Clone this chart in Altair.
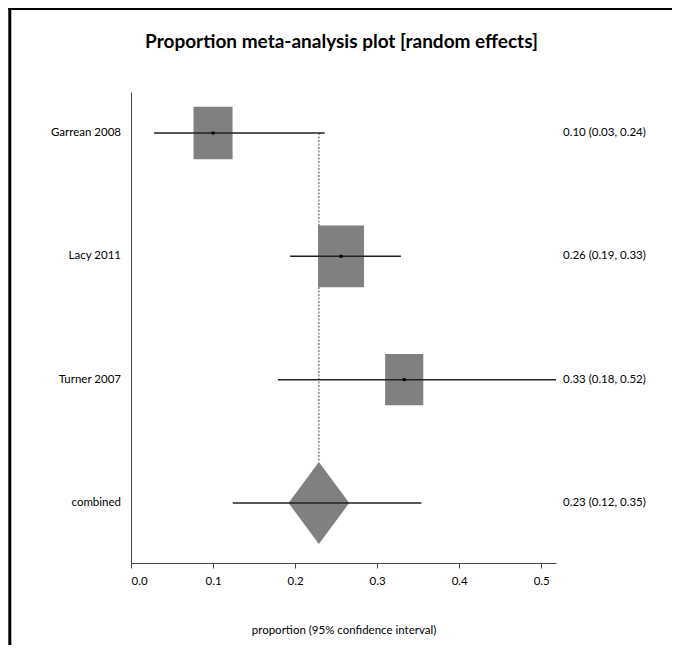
import altair as alt
import pandas as pd

# ---- data ----
studies = ["Garrean 2008", "Lacy 2011", "Turner 2007", "combined"]
estimate = [0.100, 0.256, 0.333, 0.229]
ci_low = [0.028, 0.194, 0.179, 0.124]
ci_high = [0.236, 0.329, 0.518, 0.354]
row = [4, 3, 2, 1]
weight = [0.85, 1.0, 0.83]          # relative box size of the three studies
title_text = "Proportion meta-analysis plot [random effects]"
x_title = "proportion (95% confidence interval)"
x_ticks = [0.0, 0.1, 0.2, 0.3, 0.4, 0.5]

FONT = "Lato, sans-serif"
W, H = 425, 471
BOX_W, BOX_H = 0.028, 0.25
DIA_W, DIA_H = 0.037, 0.333

df = pd.DataFrame({
    "study": studies, "est": estimate, "lo": ci_low, "hi": ci_high, "row": row,
})
df["label"] = [f"{e:.2f} ({l:.2f}, {h:.2f})" for e, l, h in zip(estimate, ci_low, ci_high)]

studies_df = df.iloc[:3].copy()
studies_df["w"] = weight
studies_df["bx1"] = studies_df["est"] - BOX_W * studies_df["w"]
studies_df["bx2"] = studies_df["est"] + BOX_W * studies_df["w"]
studies_df["by1"] = studies_df["row"] - BOX_H * studies_df["w"]
studies_df["by2"] = studies_df["row"] + BOX_H * studies_df["w"]

comb = df.iloc[3]
diamond = pd.DataFrame({
    "x": [comb.est - DIA_W, comb.est, comb.est + DIA_W],
    "y": [comb.row, comb.row + DIA_H, comb.row],
    "y2": [comb.row, comb.row - DIA_H, comb.row],
})
dash_df = pd.DataFrame({"x": [comb.est], "y": [float(max(row))], "y2": [comb.row + DIA_H]})

xscale = alt.Scale(domain=[0, 0.518], nice=False, zero=False)
yscale = alt.Scale(domain=[0.513, 4.333], nice=False, zero=False)

xenc = alt.X("x:Q", scale=xscale, axis=alt.Axis(
    values=x_ticks, format=".1f", title=x_title, grid=False,
    domainColor="#444", tickColor="#444", tickSize=5, labelPadding=7,
    labelFont=FONT, labelFontSize=11.5, labelColor="black",
    titleFont=FONT, titleFontSize=11.5, titleFontWeight="normal", titleColor="black",
    titlePadding=38))
yaxis = alt.Axis(labels=False, ticks=False, title=None, grid=False, domainColor="#444")

one = pd.DataFrame({"t": [title_text]})
frame_left = alt.Chart(one).mark_rect(color="black").encode(
    x=alt.value(-122.7), x2=alt.value(-119.7), y=alt.value(-84), y2=alt.value(553))
frame_top = alt.Chart(one).mark_rect(color="black").encode(
    x=alt.value(-122.7), x2=alt.value(541), y=alt.value(-84), y2=alt.value(-82))
title = alt.Chart(one).mark_text(font=FONT, fontSize=19, fontWeight="bold", color="black",
                                 align="center", baseline="middle").encode(
    x=alt.value(W / 2 - 2), y=alt.value(-50), text="t:N")

dash = alt.Chart(dash_df).mark_rule(color="#888", strokeWidth=1.5, strokeDash=[2, 1.5]).encode(
    x=xenc, y=alt.Y("y:Q", scale=yscale, axis=yaxis), y2="y2:Q")

boxes = alt.Chart(studies_df).mark_rect(color="#808080").encode(
    x=alt.X("bx1:Q", scale=xscale), x2="bx2:Q",
    y=alt.Y("by1:Q", scale=yscale), y2="by2:Q")

dia = alt.Chart(diamond).mark_area(color="#808080").encode(
    x=alt.X("x:Q", scale=xscale), y=alt.Y("y:Q", scale=yscale), y2="y2:Q")

ci = alt.Chart(df).mark_rule(color="#222", strokeWidth=1.5).encode(
    x=alt.X("lo:Q", scale=xscale), x2="hi:Q", y=alt.Y("row:Q", scale=yscale))

pts = alt.Chart(studies_df).mark_square(color="black", size=9, opacity=1).encode(
    x=alt.X("est:Q", scale=xscale), y=alt.Y("row:Q", scale=yscale))

names = alt.Chart(df).mark_text(align="right", baseline="middle", font=FONT, fontSize=11.5,
                                color="black").encode(
    x=alt.value(-10), y=alt.Y("row:Q", scale=yscale), text="study:N")

labels = alt.Chart(df).mark_text(align="left", baseline="middle", font=FONT, fontSize=11.5,
                                 color="black").encode(
    x=alt.value(432), y=alt.Y("row:Q", scale=yscale), text="label:N")

chart = alt.layer(frame_left, frame_top, title, dash, boxes, dia, ci, pts, names, labels).properties(
    width=W, height=H, padding=0,
).configure_view(stroke=None)

chart.save("out.html", embed_options={"renderer": "svg", "actions": False})
